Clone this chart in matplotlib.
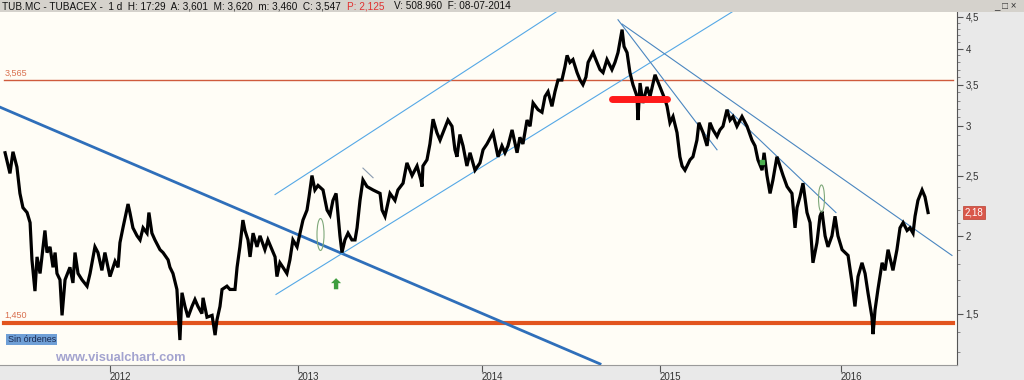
import numpy as np
import matplotlib.pyplot as plt
from matplotlib.path import Path
from matplotlib.transforms import Affine2D, blended_transform_factory
from matplotlib.ticker import FixedLocator, NullFormatter

plt.rcParams['font.family'] = ['Liberation Sans', 'DejaVu Sans']

### Price series (TUB.MC daily)
years = [2011.442, 2011.468, 2011.484, 2011.505, 2011.521, 2011.537, 2011.559, 2011.575, 2011.585, 2011.601,
         2011.612, 2011.628, 2011.654, 2011.665, 2011.681, 2011.697, 2011.708, 2011.718, 2011.734, 2011.745,
         2011.761, 2011.787, 2011.803, 2011.814, 2011.830, 2011.851, 2011.878, 2011.894, 2011.920, 2011.936,
         2011.957, 2011.973, 2012.000, 2012.027, 2012.043, 2012.053, 2012.069, 2012.096, 2012.106, 2012.122,
         2012.144, 2012.160, 2012.176, 2012.197, 2012.207, 2012.223, 2012.239, 2012.266, 2012.282, 2012.293,
         2012.309, 2012.319, 2012.335, 2012.356, 2012.372, 2012.383, 2012.399, 2012.415, 2012.436, 2012.452,
         2012.468, 2012.489, 2012.495, 2012.516, 2012.543, 2012.559, 2012.569, 2012.585, 2012.596, 2012.622,
         2012.638, 2012.665, 2012.676, 2012.691, 2012.707, 2012.718, 2012.734, 2012.745, 2012.761, 2012.782,
         2012.798, 2012.824, 2012.840, 2012.862, 2012.878, 2012.888, 2012.904, 2012.920, 2012.941, 2012.957,
         2012.973, 2012.995, 2013.011, 2013.027, 2013.049, 2013.060, 2013.076, 2013.092, 2013.109, 2013.136,
         2013.158, 2013.174, 2013.190, 2013.207, 2013.228, 2013.239, 2013.255, 2013.272, 2013.293, 2013.310,
         2013.321, 2013.337, 2013.353, 2013.375, 2013.408, 2013.446, 2013.457, 2013.473, 2013.500, 2013.527,
         2013.543, 2013.571, 2013.592, 2013.620, 2013.647, 2013.668, 2013.674, 2013.679, 2013.701, 2013.717,
         2013.734, 2013.755, 2013.772, 2013.788, 2013.815, 2013.837, 2013.853, 2013.864, 2013.880, 2013.897,
         2013.918, 2013.935, 2013.962, 2013.989, 2014.006, 2014.028, 2014.062, 2014.090, 2014.112, 2014.129,
         2014.146, 2014.169, 2014.197, 2014.213, 2014.230, 2014.253, 2014.270, 2014.287, 2014.315, 2014.337,
         2014.354, 2014.371, 2014.393, 2014.410, 2014.427, 2014.449, 2014.466, 2014.478, 2014.494, 2014.511,
         2014.534, 2014.551, 2014.567, 2014.584, 2014.596, 2014.624, 2014.646, 2014.663, 2014.680, 2014.702,
         2014.730, 2014.747, 2014.764, 2014.787, 2014.798, 2014.815, 2014.831, 2014.848, 2014.871, 2014.876,
         2014.888, 2014.904, 2014.927, 2014.944, 2014.972, 2015.000, 2015.028, 2015.039, 2015.055, 2015.072,
         2015.094, 2015.110, 2015.122, 2015.138, 2015.166, 2015.182, 2015.204, 2015.215, 2015.238, 2015.260,
         2015.276, 2015.293, 2015.315, 2015.331, 2015.348, 2015.370, 2015.387, 2015.403, 2015.425, 2015.453,
         2015.481, 2015.508, 2015.525, 2015.541, 2015.564, 2015.575, 2015.591, 2015.608, 2015.624, 2015.646,
         2015.663, 2015.680, 2015.702, 2015.729, 2015.746, 2015.757, 2015.773, 2015.790, 2015.812, 2015.829,
         2015.845, 2015.867, 2015.884, 2015.895, 2015.912, 2015.928, 2015.950, 2015.967, 2015.983, 2016.006,
         2016.022, 2016.039, 2016.061, 2016.077, 2016.094, 2016.116, 2016.133, 2016.149, 2016.171, 2016.177,
         2016.188, 2016.204, 2016.227, 2016.243, 2016.260, 2016.287, 2016.309, 2016.326, 2016.343, 2016.365,
         2016.381, 2016.398, 2016.409, 2016.425, 2016.448, 2016.464, 2016.481]
prices = [2.72, 2.52, 2.73, 2.58, 2.34, 2.22, 2.18, 2.10, 1.83, 1.63,
          1.85, 1.74, 2.04, 1.88, 1.92, 1.78, 1.88, 1.74, 1.70, 1.49,
          1.70, 1.78, 1.68, 1.88, 1.74, 1.70, 1.66, 1.74, 1.92, 1.88,
          1.76, 1.88, 1.72, 1.82, 1.78, 1.95, 2.06, 2.25, 2.18, 2.06,
          2.00, 1.97, 2.06, 2.02, 2.18, 2.02, 1.97, 1.90, 1.88, 1.86,
          1.83, 1.78, 1.74, 1.64, 1.36, 1.62, 1.54, 1.48, 1.54, 1.58,
          1.54, 1.50, 1.59, 1.48, 1.49, 1.385, 1.465, 1.54, 1.64, 1.66,
          1.64, 1.64, 1.78, 1.92, 2.12, 2.04, 1.97, 1.85, 2.02, 1.92,
          2.00, 1.90, 1.97, 1.90, 1.85, 1.72, 1.81, 1.78, 1.74, 1.83,
          1.97, 1.92, 2.02, 2.12, 2.20, 2.31, 2.50, 2.37, 2.41, 2.37,
          2.20, 2.16, 2.28, 2.34, 2.00, 1.88, 1.97, 2.02, 1.97, 1.97,
          2.06, 2.28, 2.46, 2.40, 2.37, 2.34, 2.20, 2.15, 2.34, 2.28,
          2.37, 2.43, 2.62, 2.50, 2.59, 2.46, 2.40, 2.59, 2.65, 2.81,
          3.08, 2.93, 2.85, 2.93, 3.07, 3.00, 2.75, 2.68, 2.91, 2.79,
          2.59, 2.72, 2.55, 2.62, 2.75, 2.81, 2.93, 2.68, 2.79, 2.72,
          2.79, 2.96, 2.72, 2.88, 2.81, 3.07, 3.00, 3.27, 3.19, 3.16,
          3.35, 3.41, 3.23, 3.41, 3.56, 3.56, 3.74, 3.90, 3.80, 3.84,
          3.66, 3.56, 3.50, 3.60, 3.80, 3.94, 3.80, 3.70, 3.66, 3.84,
          3.70, 3.80, 3.94, 4.29, 4.03, 3.94, 3.66, 3.50, 3.35, 3.07,
          3.52, 3.27, 3.47, 3.35, 3.63, 3.47, 3.31, 3.23, 3.04, 3.11,
          2.93, 2.68, 2.59, 2.55, 2.65, 2.68, 2.85, 3.04, 2.93, 2.79,
          3.04, 2.96, 2.89, 2.96, 3.00, 3.19, 3.07, 3.11, 3.00, 3.11,
          3.00, 2.85, 2.79, 2.65, 2.55, 2.72, 2.50, 2.34, 2.46, 2.68,
          2.59, 2.50, 2.40, 2.34, 2.06, 2.22, 2.31, 2.43, 2.18, 2.10,
          1.81, 1.95, 2.15, 2.19, 2.00, 1.92, 2.00, 2.15, 2.00, 1.90,
          1.88, 1.86, 1.68, 1.54, 1.72, 1.81, 1.74, 1.62, 1.48, 1.39,
          1.52, 1.64, 1.81, 1.76, 1.90, 1.76, 1.90, 2.06, 2.10, 2.04,
          2.06, 2.02, 2.15, 2.28, 2.37, 2.31, 2.18]

# horizontal levels
level_hi = 3.565
level_lo = 1.450
last_price = 2.18

# trend lines: (year0, price0, year1, price1)
main_trend = (2011.415, 3.22, 2014.663, 1.245)
chan_upper = (2012.878, 2.33, 2014.416, 4.58)
chan_lower = (2012.883, 1.61, 2015.398, 4.58)
chan_stub = (2013.353, 2.57, 2013.408, 2.48)
down_steep = (2014.764, 4.45, 2015.315, 2.75)
down_long = (2014.787, 4.38, 2016.613, 1.86)
down_mid = (2015.376, 3.19, 2015.972, 2.18)
support_bar = (2014.730, 3.32, 2015.039, 3.32)

# annotations
ovals = [(2013.120, 2.01, 23), (2015.890, 2.30, 19.5)]
arrow_pt = (2013.207, 1.71)
green_mark = (2015.564, 2.63)

# bar spacing per calendar year (trading-day axis)
year_knots = [2010, 2011, 2012, 2013, 2014, 2015, 2016, 2017, 2018]
year_width = [188, 188, 188, 184, 178, 181, 181, 181]
cum = np.concatenate([[0], np.cumsum(year_width)])

def fwd(x):
    return np.interp(x, year_knots, cum)

def inv(s):
    return np.interp(s, cum, year_knots)

yticks = [1.5, 2, 2.5, 3, 3.5, 4, 4.5]
ylabels = ['1,5', '2', '2,5', '3', '3,5', '4', '4,5']
xticks = [2012, 2013, 2014, 2015, 2016]

############################ Figure ################################
fig = plt.figure(figsize=(10.24, 3.80), dpi=100, facecolor='#e9e9e9')
ax = fig.add_axes([0.0, 0.0395, 0.9346, 0.929])
ax.set_facecolor('#fffdf6')
ax.set_xscale('function', functions=(fwd, inv))
ax.set_yscale('log')
ax.set_xlim(2011.415, 2016.641)
ax.set_ylim(1.24, 4.58)

# levels
ax.axhline(level_hi, color='#cf5a3c', lw=1.0, xmin=0.004, xmax=0.996)
ax.axhline(level_lo, color='#e2541e', lw=3.0, xmin=0.004, xmax=0.996)
ax.text(2011.44, level_hi * 1.008, '3,565', color='#d9704f', fontsize=6.5, va='bottom')
ax.text(2011.44, level_lo * 1.012, '1,450', color='#d9704f', fontsize=6.5, va='bottom')

def seg(s, **kw):
    ax.plot([s[0], s[2]], [s[1], s[3]], **kw)

seg(main_trend, color='#2f6fba', lw=2.0)
for s in (chan_upper, chan_lower):
    seg(s, color='#55a8e6', lw=0.8)
seg(chan_stub, color='#8a9bb0', lw=0.8)
for s in (down_steep, down_long, down_mid):
    seg(s, color='#4a86c0', lw=0.8)

# price
ax.plot(years, prices, color='black', lw=2.3, solid_joinstyle='miter')

seg(support_bar, color='#ff1a1a', lw=5, solid_capstyle='round')

oval = Path.unit_circle().transformed(Affine2D().scale(0.22, 1))
for ox, oy, sz in ovals:
    ax.plot(ox, oy, marker=oval, ms=sz, mfc='none', mec='#7fa87a', mew=0.8, ls='none')
ax.annotate('', xy=arrow_pt, xytext=(0, -8), textcoords='offset points',
            arrowprops=dict(arrowstyle='simple,head_width=0.8,head_length=0.4,tail_width=0.35',
                            mutation_scale=9, color='#3e9e3e', lw=0, shrinkA=0, shrinkB=0))
ax.plot(*green_mark, marker='s', ms=3.5, color='#4caf50', ls='none')

# axes
ax.set_yticks(yticks)
ax.set_yticklabels(ylabels)
ax.yaxis.set_minor_locator(FixedLocator(np.arange(1.3, 4.6, 0.1)))
ax.yaxis.set_minor_formatter(NullFormatter())
ax.yaxis.tick_right()
ax.tick_params(axis='y', which='major', length=4, width=0.8, colors='#555555',
               labelcolor='#333333', labelsize=7, pad=2)
ax.tick_params(axis='y', which='minor', length=2, width=0.6, colors='#777777')
ax.set_xticks(xticks)
ax.set_xticklabels([str(t) for t in xticks])
ax.tick_params(axis='x', which='both', length=5, width=0.8, colors='#555555',
               labelcolor='#333333', labelsize=7, pad=0)
ax.xaxis.set_minor_locator(FixedLocator([]))
for lab in ax.get_xticklabels():
    lab.set_horizontalalignment('left')
for side in ('left', 'top'):
    ax.spines[side].set_visible(False)
ax.spines['right'].set_color('#555555')
ax.spines['bottom'].set_color('#9a9a9a')

# last price tag
tr = blended_transform_factory(ax.transAxes, ax.transData)
ax.text(1.008, last_price, '2,18', transform=tr, fontsize=7, color='white', va='center',
        bbox=dict(boxstyle='square,pad=0.15', fc='#d9574a', ec='#b84030', lw=0.5))

ax.text(0.008, 0.065, 'Sin órdenes', transform=ax.transAxes, fontsize=6.5, color='#1a2a50',
        bbox=dict(boxstyle='square,pad=0.15', fc='#6f9fd6', ec='none'))
ax.text(0.057, 0.012, 'www.visualchart.com', transform=ax.transAxes, fontsize=9.3,
        fontweight='bold', color='#a3a3cf')

# header bar
fig.patches.append(plt.Rectangle((0, 0.968), 1, 0.032, transform=fig.transFigure,
                                 fc='#d5d2cc', ec='none', zorder=0))
fig.text(0.002, 0.984, 'TUB.MC - TUBACEX -  1 d  H: 17:29  A: 3,601  M: 3,620  m: 3,460  C: 3,547 ',
         fontsize=7.2, color='#111111', va='center')
fig.text(0.339, 0.984, 'P: 2,125', fontsize=7.2, color='#e03030', va='center')
fig.text(0.385, 0.984, 'V: 508.960  F: 08-07-2014', fontsize=7.2, color='#111111', va='center')
fig.text(0.993, 0.984, '_ □ ×', fontsize=7, color='#333333', va='center', ha='right')

plt.savefig('out.png', dpi=100, facecolor=fig.get_facecolor())
